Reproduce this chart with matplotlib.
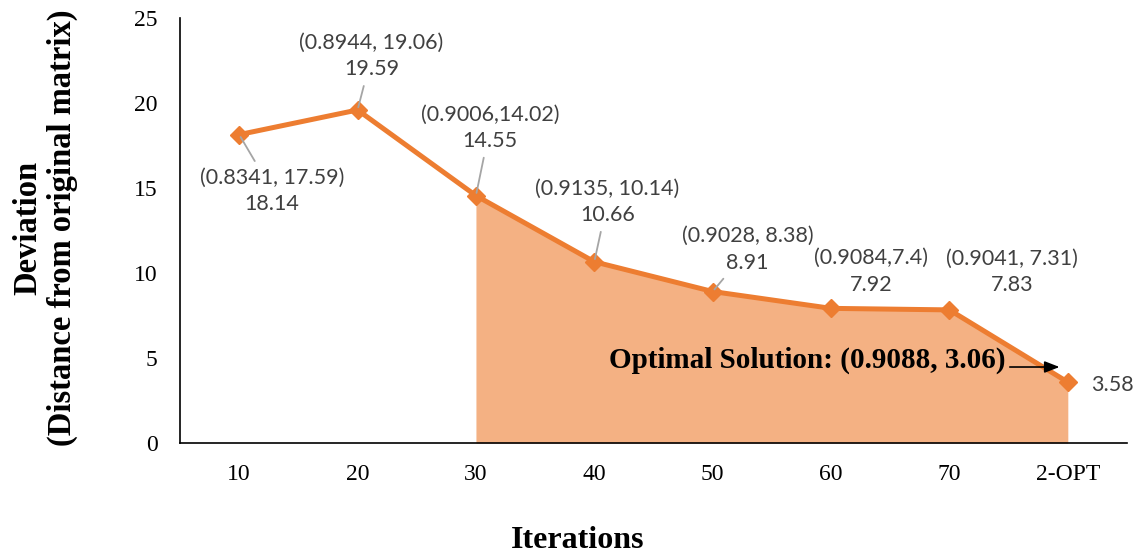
import matplotlib
matplotlib.use("Agg")
import matplotlib.pyplot as plt
import numpy as np

categories = ["10", "20", "30", "40", "50", "60", "70", "2-OPT"]
deviation = [18.14, 19.59, 14.55, 10.66, 8.91, 7.92, 7.83, 3.58]
pairs = ["(0.8341, 17.59)", "(0.8944, 19.06)", "(0.9006,14.02)", "(0.9135, 10.14)",
         "(0.9028, 8.38)", "(0.9084,7.4)", "(0.9041, 7.31)", ""]
optimal_text = "Optimal Solution: (0.9088, 3.06)"
fill_start = 2  # shaded from category "30" onward
y_ticks = [0, 5, 10, 15, 20, 25]

LINE = "#ED7D31"
FILL = "#F4B183"
LABEL = "#404040"
SERIF = "Liberation Serif"
SANS = "Lato"

fig = plt.figure(figsize=(11.44, 5.57), dpi=100)
ax = fig.add_axes([180/1144, 114/557, 947/1144, 425/557])

x = np.arange(len(categories))
ax.fill_between(x[fill_start:], deviation[fill_start:], 0, color=FILL, lw=0, zorder=1)
ax.plot(x, deviation, color=LINE, lw=3.6, marker="D", ms=9, mfc=LINE, mec=LINE, zorder=3)

ax.set_xlim(-0.5, len(categories) - 0.5)
ax.set_ylim(0, 25)
ax.set_yticks(y_ticks)
ax.set_xticks(x)
ax.set_xticklabels(categories)
for s in ["top", "right"]:
    ax.spines[s].set_visible(False)
for s in ["left", "bottom"]:
    ax.spines[s].set_color("black")
    ax.spines[s].set_linewidth(1.2)
ax.tick_params(length=0, labelsize=17)
ax.tick_params(axis="x", pad=15)
ax.tick_params(axis="y", pad=16)
for t in ax.get_xticklabels() + ax.get_yticklabels():
    t.set_fontfamily(SERIF)

# label offsets in pixels (dx, dy) and whether a leader line is drawn
offsets = [(33, -56, True), (14, 54, True), (14, 68, True), (13, 60, True),
           (35, 42, True), (40, 37, False), (63, 38, False), (45, -3, False)]
for i, (v, p) in enumerate(zip(deviation, pairs)):
    dx, dy, lead = offsets[i]
    txt = f"{p}\n{v:.2f}" if p else f"{v:.2f}"
    kw = dict(arrowprops=dict(arrowstyle="-", color="#A5A5A5", lw=1.3,
                              shrinkA=3, shrinkB=2)) if lead else {}
    ax.annotate(txt, xy=(i, v), xytext=(dx, dy), textcoords="offset pixels",
                ha="center", va="center", fontsize=15.5, color=LABEL,
                family=SANS, linespacing=1.4, zorder=4, **kw)

ax.text(6.47, 4.88, optimal_text, ha="right", va="center", fontsize=21,
        fontweight="bold", family=SERIF, color="black", zorder=5)
ax.annotate("", xy=(6.93, 4.47), xytext=(6.51, 4.47),
            arrowprops=dict(arrowstyle="-|>,head_length=0.9,head_width=0.35",
                            color="black", lw=1.2, shrinkA=0, shrinkB=0), zorder=5)

fig.text(45/1144, 1 - 228/557, "Deviation\n(Distance from original matrix)",
         rotation=90, ha="center", va="center", fontsize=23.5, fontweight="bold",
         family=SERIF, linespacing=1.15)
fig.text(578/1144, 1 - 540/557, "Iterations", ha="center", va="center",
         fontsize=23, fontweight="bold", family=SERIF)

fig.savefig("out.png", dpi=100)
